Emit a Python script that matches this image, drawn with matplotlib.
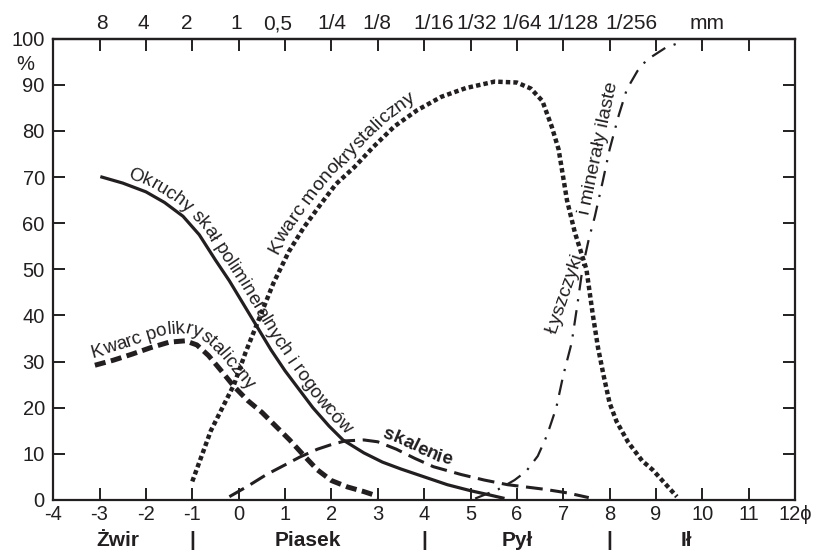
import numpy as np
import matplotlib
matplotlib.use("Agg")
import matplotlib.pyplot as plt
from matplotlib.font_manager import FontProperties
from matplotlib.transforms import blended_transform_factory

plt.rcParams["font.family"] = ["Liberation Sans", "DejaVu Sans"]
plt.rcParams["font.size"] = 14.5

INK = "#231f20"

# skala phi (oś dolna) i średnice ziaren w mm (oś górna)
phi_ticks = list(range(-4, 13))
phi_labels = [str(v) for v in range(-4, 12)] + ["12ϕ"]
mm_labels = ["8", "4", "2", "1", "0,5", "1/4", "1/8", "1/16", "1/32", "1/64", "1/128", "1/256", "mm"]
mm_pos = [-2.94, -2.06, -1.11, -0.06, 0.83, 2.01, 2.98, 4.2, 5.14, 6.1, 7.2, 8.46, 10.1]
procent_ticks = list(range(0, 101, 10))

frakcje = ["Żwir", "|", "Piasek", "|", "Pył", "|", "Ił"]
frakcje_x = [-2.6, -1, 1.5, 4, 6, 8, 9.65]

# okruchy skał polimineralnych i rogowców
okruchy_x = [-2.95, -2.5, -2.0, -1.6, -1.2, -0.85, -0.5, -0.2, 0.1, 0.4, 0.7, 1.0, 1.3,
             1.6, 1.95, 2.25, 2.7, 3.1, 3.5, 4.0, 4.5, 5.0, 5.4, 5.7]
okruchy_y = [70, 68.7, 66.8, 64.5, 61.5, 57.5, 52, 47.5, 42.5, 37.5, 32.5, 28, 24,
             20, 16, 13, 10.2, 8.2, 6.7, 5.0, 3.3, 2.0, 1.1, 0.4]

# kwarc polikrystaliczny
poli_x = [-3.1, -2.7, -2.3, -1.9, -1.5, -1.15, -0.9, -0.65, -0.4, -0.1, 0.2, 0.5, 0.8,
          1.1, 1.4, 1.7, 2.0, 2.35, 2.7, 3.0]
poli_y = [29.2, 30.3, 31.6, 33.0, 34.2, 34.5, 33.6, 31.3, 28.3, 24.6, 21.5, 19, 16,
          13, 9.7, 6.5, 4.2, 2.8, 1.8, 0.8]

# kwarc monokrystaliczny
mono_x = [-1.0, -0.8, -0.6, -0.35, -0.1, 0.15, 0.43, 0.75, 1.08, 1.4, 1.79, 2.1, 2.5,
          2.9, 3.36, 3.85, 4.37, 4.9, 5.52, 6.0, 6.3, 6.55, 6.75, 6.9, 7.08, 7.25, 7.5,
          7.64, 7.75, 7.87, 8.0, 8.15, 8.4, 8.7, 8.93, 9.2, 9.45]
mono_y = [4, 9.5, 15, 20, 25, 32, 39, 47, 53.8, 59, 64.4, 68.5, 72.2,
          76.5, 81, 84.5, 87.4, 89.3, 90.7, 90.5, 89.2, 86.5, 81, 76, 65, 58, 50,
          40, 33, 27, 21, 17, 12.5, 8.5, 6.5, 3.5, 0.7]

# skalenie
skal_x = [-0.2, 0.2, 0.6, 1.0, 1.32, 1.7, 2.0, 2.3, 2.7, 3.0, 3.4, 3.8, 4.2, 4.8,
          5.3, 5.8, 6.6, 7.1, 7.55]
skal_y = [0.7, 3, 5.5, 7.6, 9.3, 11, 12, 12.8, 13, 12.6, 11, 9, 7.2, 5.5,
          4.3, 3.3, 2.3, 1.5, 0.5]

# łyszczyki i minerały ilaste
lysz_x = [5.1, 5.35, 5.6, 5.95, 6.2, 6.45, 6.65, 6.85, 7.0, 7.18, 7.3, 7.42, 7.55,
          7.68, 7.85, 8.0, 8.2, 8.37, 8.6, 8.8, 9.2, 9.6]
lysz_y = [0.3, 1.3, 2.3, 4.3, 6.2, 9.5, 14, 20, 27, 34, 42, 50.5, 56.5,
          61.4, 69, 76, 83.5, 89, 93, 95.4, 98, 99.5]


def napis_wzdluz(ax, xs, ys, tekst, x0, odstep, fontsize=13.5, **kw):
    """Rozmieszcza litery napisu wzdłuż krzywej, odsuniętej o `odstep` px."""
    r = ax.figure.canvas.get_renderer()
    fp = FontProperties(family=plt.rcParams["font.family"], size=fontsize,
                        weight=kw.get("fontweight", "normal"))

    def szer(s):
        return r.get_text_width_height_descent(s, fp, ismath=False)[0]

    pts = ax.transData.transform(np.column_stack([xs, ys]))
    t = np.gradient(pts, axis=0)
    t /= np.hypot(t[:, 0], t[:, 1])[:, None]
    base = pts + np.column_stack([-t[:, 1], t[:, 0]]) * odstep
    s = np.concatenate([[0], np.cumsum(np.hypot(*np.diff(base, axis=0).T))])
    pos = np.interp(x0, xs, s)
    inv = ax.transData.inverted()
    hh = szer("HH")
    for ch in tekst:
        w = szer("H" + ch + "H") - hh
        pa = np.array([np.interp(pos, s, base[:, 0]), np.interp(pos, s, base[:, 1])])
        pb = np.array([np.interp(pos + w, s, base[:, 0]), np.interp(pos + w, s, base[:, 1])])
        kat = np.degrees(np.arctan2(pb[1] - pa[1], pb[0] - pa[0]))
        mx, my = inv.transform((pa + pb) / 2)
        ax.text(mx, my, ch, rotation=kat, rotation_mode="anchor", fontsize=fontsize,
                ha="center", va="baseline", color=INK, **kw)
        pos += w


fig = plt.figure(figsize=(8.18, 5.53), dpi=100)
ax = fig.add_axes([0.065, 0.096, 0.907, 0.834])

ax.plot(okruchy_x, okruchy_y, color=INK, lw=2.3)
ax.plot(poli_x, poli_y, color=INK, lw=3.6, dashes=(2.2, 1.1))
ax.plot(mono_x, mono_y, color=INK, lw=3.2, dashes=(1, 0.7))
ax.plot(skal_x, skal_y, color=INK, lw=2.2, dashes=(5.5, 2.5))
ax.plot(lysz_x, lysz_y, color=INK, lw=1.6, dashes=(7, 4, 1, 4))

ax.set_xlim(-4, 12)
ax.set_ylim(0, 100)
ax.set_xticks(phi_ticks, labels=phi_labels)
ax.set_yticks(procent_ticks)
ax.tick_params(direction="in", length=8.5, width=1.4, top=True, right=True,
               colors=INK, labelsize=14.5)
ax.tick_params(axis="x", pad=4)
ax.tick_params(axis="y", pad=6)
for sp in ax.spines.values():
    sp.set_linewidth(1.6)
    sp.set_color(INK)

# górna oś: tylko podpisy w mm (kreski rysuje oś główna)
sec = ax.secondary_xaxis("top")
sec.set_xticks(mm_pos, labels=mm_labels)
sec.tick_params(length=0, pad=4, labelsize=15, colors=INK)
sec.spines["top"].set_linewidth(1.6)

fig.text(25 / 818, 1 - 64 / 553, "%", ha="center", va="center", color=INK, fontsize=14.5)

tr = blended_transform_factory(ax.transData, ax.transAxes)
for nazwa, x in zip(frakcje, frakcje_x):
    ax.text(x, -0.1, nazwa, transform=tr, ha="center", va="baseline",
            fontweight="bold", fontsize=15, color=INK)

# opisy krzywych
napis_wzdluz(ax, okruchy_x, okruchy_y, "Okruchy skał polimineralnych i rogowców", -2.45, 6)
napis_wzdluz(ax, mono_x, mono_y, "Kwarc monokrystaliczny", 1.0, 9, fontsize=14)
napis_wzdluz(ax, poli_x, poli_y, "Kwarc polikrystaliczny", -3.15, 8)
napis_wzdluz(ax, skal_x, skal_y, "skalenie", 3.05, 6, fontweight="bold")
ax.text(6.85, 35.8, "Łyszczyki", rotation=71, rotation_mode="anchor",
        ha="left", va="baseline", color=INK, fontsize=14)
ax.text(7.56, 61.8, "i minerały ilaste", rotation=78, rotation_mode="anchor",
        ha="left", va="baseline", color=INK, fontsize=14)

fig.savefig("out.png", dpi=100)
